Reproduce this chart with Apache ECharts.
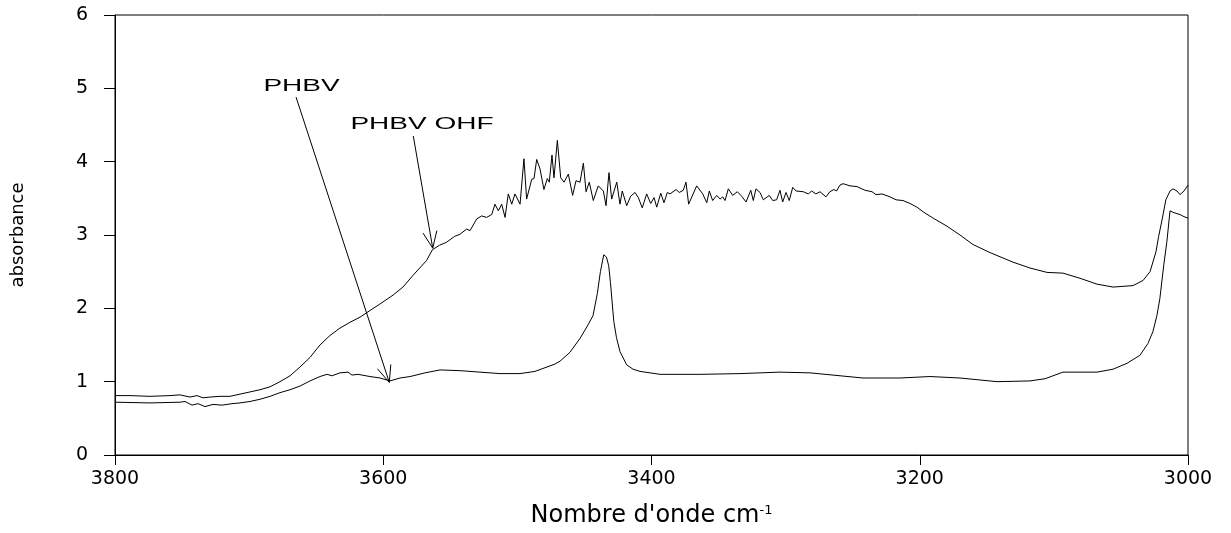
<!DOCTYPE html>
<html>
<head>
<meta charset="utf-8">
<script src="https://cdn.jsdelivr.net/npm/echarts@6/dist/echarts.min.js"></script>
<style>
html,body{margin:0;padding:0;background:#fff;}
#chart{width:1231px;height:533px;}
</style>
</head>
<body>
<div id="chart"></div>
<script>
// ---- data (wavenumber cm-1, absorbance) ----
const xTicks = [3800, 3600, 3400, 3200, 3000];
const yTicks = [0, 1, 2, 3, 4, 5, 6];

const phbvOHF = [
[3800,0.81],[3788.8,0.81],[3773.9,0.80],[3759,0.81],[3751.5,0.82],[3744.1,0.79],[3738.9,0.81],[3734.4,0.78],
[3729.2,0.79],[3721.7,0.80],[3714.3,0.80],[3706.8,0.83],[3699.3,0.86],[3691.9,0.89],[3684.4,0.93],[3677,1.0],
[3669.5,1.08],[3662.1,1.2],[3654.6,1.33],[3647.2,1.50],[3639.7,1.63],[3632.3,1.73],[3624.8,1.81],[3617.3,1.88],
[3609.9,1.97],[3602.4,2.06],[3592.7,2.18],[3585.3,2.29],[3577.8,2.45],[3567.8,2.65],[3563.3,2.80],[3558.1,2.86],
[3552.9,2.90],[3546.9,2.98],[3542.8,3.01],[3537.9,3.08],[3535.3,3.06],[3530.3,3.22],[3526.6,3.26],[3522.9,3.24],
[3519.1,3.28],[3516.7,3.42],[3514.2,3.33],[3511.7,3.42],[3509.2,3.24],[3506.8,3.56],[3504.2,3.42],[3501.8,3.56],
[3498.0,3.42],[3495.1,4.04],[3493.1,3.49],[3489.3,3.76],[3487.6,3.77],[3485.6,4.03],[3483.1,3.90],[3480.2,3.62],
[3477.7,3.77],[3476.2,3.72],[3474.2,4.09],[3472.7,3.78],[3470.2,4.29],[3467.7,3.78],[3465.2,3.72],[3462.0,3.83],
[3458.8,3.54],[3456.3,3.74],[3453.3,3.72],[3450.8,3.98],[3448.8,3.59],[3446.4,3.72],[3443.4,3.47],[3439.7,3.67],
[3435.9,3.60],[3433.9,3.40],[3431.7,3.85],[3429.7,3.49],[3425.9,3.72],[3423.5,3.42],[3421.8,3.60],[3418.5,3.40],
[3415.5,3.53],[3412.3,3.58],[3409.8,3.51],[3406.9,3.37],[3403.6,3.56],[3400.6,3.43],[3398.1,3.51],[3396.1,3.38],
[3393.1,3.57],[3390.7,3.44],[3388.2,3.58],[3386.2,3.56],[3381.7,3.62],[3379.3,3.58],[3376.3,3.61],[3374.3,3.72],
[3372.3,3.42],[3366.3,3.67],[3361.8,3.56],[3358.8,3.44],[3356.9,3.60],[3354.4,3.47],[3351.4,3.54],[3348.9,3.49],
[3346.9,3.52],[3345.2,3.47],[3342.7,3.63],[3339.5,3.54],[3336.0,3.59],[3332.8,3.53],[3329.5,3.45],[3326.0,3.61],
[3324.1,3.47],[3322.1,3.63],[3319.1,3.58],[3316.6,3.48],[3312.2,3.54],[3309.6,3.47],[3306.7,3.48],[3304.2,3.61],
[3302.2,3.45],[3299.7,3.58],[3297.3,3.47],[3294.7,3.65],[3292.2,3.60],[3286.8,3.59],[3283.1,3.56],[3280.6,3.60],
[3277.4,3.56],[3274.4,3.59],[3269.9,3.52],[3267.0,3.59],[3264.0,3.62],[3262.0,3.60],[3259.5,3.68],[3257.2,3.70],
[3252.0,3.67],[3246.8,3.66],[3240.8,3.61],[3235.6,3.59],[3232.6,3.55],[3228.2,3.56],[3222.2,3.52],[3217.7,3.48],
[3212.5,3.47],[3207.3,3.43],[3202.1,3.38],[3197.0,3.31],[3190.0,3.23],[3179.7,3.12],[3170.0,3.00],[3160.3,2.87],
[3147.6,2.76],[3130.5,2.63],[3117.8,2.55],[3105.1,2.49],[3093.2,2.48],[3080.5,2.41],[3067.9,2.33],[3055.9,2.29],
[3041.0,2.31],[3033.5,2.38],[3028.3,2.50],[3023.9,2.77],[3021.9,2.98],[3019.2,3.22],[3016.5,3.48],[3013.4,3.60],
[3011.2,3.63],[3008.2,3.60],[3006.0,3.55],[3003.0,3.60],[3000.0,3.68]
];

const phbv = [
[3800,0.72],[3773.9,0.71],[3751.5,0.72],[3747.8,0.73],[3742.6,0.68],[3738.1,0.70],[3732.9,0.66],[3726.9,0.69],
[3720.2,0.68],[3712.8,0.70],[3706.8,0.71],[3699.3,0.73],[3691.9,0.76],[3684.4,0.80],[3677,0.85],[3669.5,0.89],
[3662.1,0.94],[3654.6,1.01],[3647.2,1.07],[3641.9,1.10],[3638.2,1.08],[3632.3,1.12],[3626.3,1.13],[3623.3,1.09],
[3618.8,1.10],[3609.9,1.07],[3602.4,1.05],[3595.0,1.01],[3587.5,1.05],[3580.0,1.07],[3568.9,1.12],[3557.7,1.16],
[3542.8,1.15],[3527.9,1.13],[3513.0,1.11],[3498.0,1.11],[3486.9,1.14],[3479.4,1.19],[3472.0,1.24],[3468.2,1.28],
[3460.8,1.40],[3453.3,1.59],[3448.1,1.75],[3443.6,1.90],[3440.4,2.20],[3438.1,2.50],[3435.6,2.73],[3433.6,2.70],
[3431.9,2.58],[3430.6,2.35],[3428.1,1.82],[3426.1,1.60],[3423.5,1.41],[3418.5,1.23],[3413.8,1.17],[3408.6,1.14],
[3393.6,1.10],[3363.8,1.10],[3334.0,1.11],[3304.2,1.13],[3281.8,1.12],[3242.3,1.05],[3214.7,1.05],[3192.4,1.07],
[3170.0,1.05],[3142.4,1.00],[3117.8,1.01],[3106.6,1.04],[3093.2,1.13],[3080.5,1.13],[3067.9,1.13],[3055.9,1.17],
[3045.5,1.25],[3035.8,1.36],[3029.9,1.52],[3026.2,1.68],[3023.2,1.90],[3021.0,2.13],[3018.0,2.60],[3015.8,2.90],
[3013.4,3.33],[3011.2,3.31],[3008.2,3.29],[3006.0,3.28],[3003.0,3.25],[3000.0,3.23]
];

// annotations: label, label anchor, arrow start, arrow tip (data units)
const annText  = ['PHBV', 'PHBV OHF'];
const annTextX = [3660.9, 3571.1];
const annTextY = [5.02, 4.50];
const annFromX = [3665.0, 3577.6];
const annFromY = [4.88, 4.35];
const annToX   = [3595.5, 3563.1];
const annToY   = [0.99, 2.82];

const annData = annText.map((t, i) => [annFromX[i], annFromY[i], annToX[i], annToY[i], annTextX[i], annTextY[i]]);

const chart = echarts.init(document.getElementById('chart'), null, {renderer: 'canvas'});

const axisFont = 'DejaVu Sans';

chart.setOption({
  animation: false,
  backgroundColor: '#fff',
  grid: {left: 115, right: 43, top: 15, bottom: 76, show: true, borderColor: '#000', borderWidth: 1, backgroundColor: 'transparent'},
  xAxis: {
    type: 'value', inverse: true,
    min: xTicks[xTicks.length - 1], max: xTicks[0], interval: 200,
    axisLine: {show: true, onZero: false, lineStyle: {color: '#000', width: 1}},
    axisTick: {show: true, length: 10, lineStyle: {color: '#000', width: 1}},
    splitLine: {show: false},
    axisLabel: {color: '#000', fontFamily: axisFont, fontSize: 19, margin: 15,
      formatter: function (v) { return String(v); }},
    name: "Nombre d'onde cm{sup|-1}",
    nameLocation: 'middle', nameGap: 49,
    nameTextStyle: {color: '#000', fontFamily: axisFont, fontSize: 24,
      rich: {sup: {fontFamily: axisFont, fontSize: 13, verticalAlign: 'top', color: '#000'}}}
  },
  yAxis: {
    type: 'value', min: yTicks[0], max: yTicks[yTicks.length - 1], interval: 1,
    axisLine: {show: true, onZero: false, lineStyle: {color: '#000', width: 1}},
    axisTick: {show: true, length: 11, lineStyle: {color: '#000', width: 1}},
    splitLine: {show: false},
    axisLabel: {color: '#000', fontFamily: axisFont, fontSize: 19, margin: 27,
      formatter: function (v) { return String(v); }},
    name: 'absorbance', nameLocation: 'middle', nameGap: 88, nameRotate: 90,
    nameTextStyle: {color: '#000', fontFamily: axisFont, fontSize: 18}
  },
  series: [
    {name: 'PHBV OHF', type: 'line', data: phbvOHF, showSymbol: false, symbol: 'none',
     lineStyle: {color: '#000', width: 1}, z: 3},
    {name: 'PHBV', type: 'line', data: phbv, showSymbol: false, symbol: 'none',
     lineStyle: {color: '#000', width: 1}, z: 3},
    {name: 'annotations', type: 'custom', data: annData, z: 5, silent: true,
     renderItem: function (params, api) {
       const p0 = api.coord([api.value(0), api.value(1)]);
       const p1 = api.coord([api.value(2), api.value(3)]);
       const pt = api.coord([api.value(4), api.value(5)]);
       const ang = Math.atan2(p1[1] - p0[1], p1[0] - p0[0]);
       const L = 18, a = 0.4;
       const b1 = [p1[0] - L * Math.cos(ang - a), p1[1] - L * Math.sin(ang - a)];
       const b2 = [p1[0] - L * Math.cos(ang + a), p1[1] - L * Math.sin(ang + a)];
       return {
         type: 'group',
         children: [
           {type: 'line', shape: {x1: p0[0], y1: p0[1], x2: p1[0], y2: p1[1]}, style: {stroke: '#000', lineWidth: 1}},
           {type: 'polyline', shape: {points: [b1, p1, b2]}, style: {stroke: '#000', fill: null, lineWidth: 1}},
           {type: 'text', x: pt[0], y: pt[1], scaleX: 1.75, scaleY: 1,
            style: {text: annText[params.dataIndex], x: 0, y: 0, align: 'center', verticalAlign: 'middle',
                    fontFamily: 'Liberation Sans', fontSize: 16, fill: '#000'}}
         ]
       };
     }}
  ]
});
</script>
</body>
</html>
